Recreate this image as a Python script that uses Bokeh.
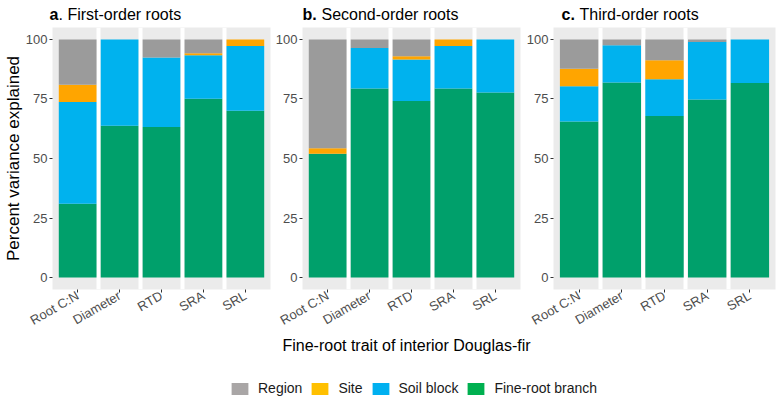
import math
from bokeh.plotting import figure
from bokeh.layouts import row, column
from bokeh.models import (ColumnDataSource, FactorRange, Range1d, Label, Legend, LegendItem,
                          Grid, FixedTicker)
from bokeh.embed import file_html
from bokeh.resources import INLINE

# ---------------- data ----------------
traits = ["Root C:N", "Diameter", "RTD", "SRA", "SRL"]
components = ["branch", "soil", "site", "region"]

# First-order roots
branch_a = [31.0, 63.7, 63.2, 75.1, 70.0]
soil_a = [42.7, 36.3, 29.2, 18.2, 27.2]
site_a = [7.3, 0.0, 0.0, 0.9, 2.8]
region_a = [19.0, 0.0, 7.6, 5.8, 0.0]

# Second-order roots
branch_b = [52.0, 79.4, 74.1, 79.4, 77.7]
soil_b = [0.0, 17.0, 17.5, 17.8, 22.3]
site_b = [2.3, 0.0, 1.3, 2.8, 0.0]
region_b = [45.7, 3.6, 7.1, 0.0, 0.0]

# Third-order roots
branch_c = [65.5, 81.9, 67.8, 74.8, 81.7]
soil_c = [14.8, 15.7, 15.5, 24.1, 18.3]
site_c = [7.4, 0.0, 7.9, 0.0, 0.0]
region_c = [12.3, 2.4, 8.8, 1.1, 0.0]

yticks = [0, 25, 50, 75, 100]
legend_labels = ["Region", "Site", "Soil block", "Fine-root branch"]

# ---------------- style ----------------
FONT = "Liberation Sans"
bar_colors = ["#00A06B", "#00B2EE", "#FFA500", "#9B9B9B"]
legend_colors = ["#A9A6A6", "#FFC000", "#00B0F0", "#00B050"]
PANEL_BG = "#EBEBEB"


def make_panel(branch, soil, site, region, width, bl, br, ylabel=None):
    src = ColumnDataSource(dict(trait=traits, branch=branch, soil=soil, site=site, region=region))
    xr = FactorRange(*traits, range_padding=0.1, range_padding_units="absolute")
    p = figure(x_range=xr, y_range=Range1d(-5, 105), width=width, height=315,
               output_backend="svg", toolbar_location=None, tools="",
               min_border_left=bl, min_border_right=br, min_border_top=5, min_border_bottom=48)
    p.background_fill_color = PANEL_BG
    p.border_fill_color = "white"
    p.outline_line_color = None
    p.xgrid.visible = False
    p.ygrid.visible = False
    p.add_layout(Grid(dimension=0, ticker=FixedTicker(ticks=[1, 2, 3, 4]),
                      grid_line_color="white", grid_line_width=4))
    p.vbar_stack(components, x="trait", width=0.9, source=src, color=bar_colors,
                 line_color=None)
    for ax in (p.xaxis[0], p.yaxis[0]):
        ax.axis_line_color = None
        ax.major_tick_line_color = "#333333"
        ax.major_tick_out = 3
        ax.major_tick_in = 0
        ax.minor_tick_line_color = None
        ax.major_label_text_font = FONT
        ax.major_label_text_font_size = "13px"
        ax.major_label_text_color = "#4D4D4D"
        ax.major_label_standoff = 2
    p.yaxis.ticker = FixedTicker(ticks=yticks)
    p.xaxis.major_label_orientation = math.pi / 6
    if ylabel:
        p.yaxis.axis_label = ylabel
        p.yaxis.axis_label_text_font = FONT
        p.yaxis.axis_label_text_font_size = "17px"
        p.yaxis.axis_label_text_font_style = "normal"
        p.yaxis.axis_label_text_color = "#000000"
        p.yaxis.axis_label_standoff = 0
    return p


pa = make_panel(branch_a, soil_a, site_a, region_a, 272, 49, 2, "Percent variance explained")
pb = make_panel(branch_b, soil_b, site_b, region_b, 251, 28, 3)
pc = make_panel(branch_c, soil_c, site_c, region_c, 255, 30, 3)

W = 778


def blank(height):
    f = figure(width=W, height=height, x_range=Range1d(0, W), y_range=Range1d(0, height),
               output_backend="svg", toolbar_location=None, tools="",
               min_border=0, min_border_left=0, min_border_right=0,
               min_border_top=0, min_border_bottom=0)
    f.axis.visible = False
    f.grid.visible = False
    f.outline_line_color = None
    return f


# top: panel titles (bold letter + normal text)
ptop = blank(22)
titles = [("a", ". First-order roots", 49, 58), ("b.", "Second-order roots", 302, 321),
          ("c.", "Third-order roots", 561, 579)]
for bold, rest, x0, x1 in titles:
    ptop.add_layout(Label(x=x0, y=8, text=bold, text_font=FONT, text_font_size="16px",
                          text_font_style="bold", text_color="#000000",
                          text_baseline="middle"))
    ptop.add_layout(Label(x=x1, y=8, text=rest, text_font=FONT, text_font_size="16px",
                          text_color="#000000", text_baseline="middle"))

# bottom: shared x title + legend
pbot = blank(62)
pbot.add_layout(Label(x=406, y=54, text="Fine-root trait of interior Douglas-fir",
                      text_font=FONT, text_font_size="16px", text_color="#000000",
                      text_align="center", text_baseline="middle"))
nan = float("nan")
items = []
for lab, col in zip(legend_labels, legend_colors):
    src = ColumnDataSource(dict(x=[nan], y=[nan]))
    r = pbot.rect(x="x", y="y", width=1, height=1, source=src, fill_color=col, line_color=None)
    items.append(LegendItem(label=lab, renderers=[r]))
leg = Legend(items=items, orientation="horizontal", location=(229, 3),
             glyph_width=21, glyph_height=15, label_standoff=8, spacing=7,
             padding=0, margin=0, border_line_color=None, background_fill_alpha=0,
             label_text_font=FONT, label_text_font_size="14px", label_text_color="#1A1A1A",
             label_height=15, label_text_baseline="middle")
pbot.add_layout(leg, "center")

layout = column(ptop, row(pa, pb, pc), pbot)
open("out.html", "w").write(file_html(layout, INLINE))
